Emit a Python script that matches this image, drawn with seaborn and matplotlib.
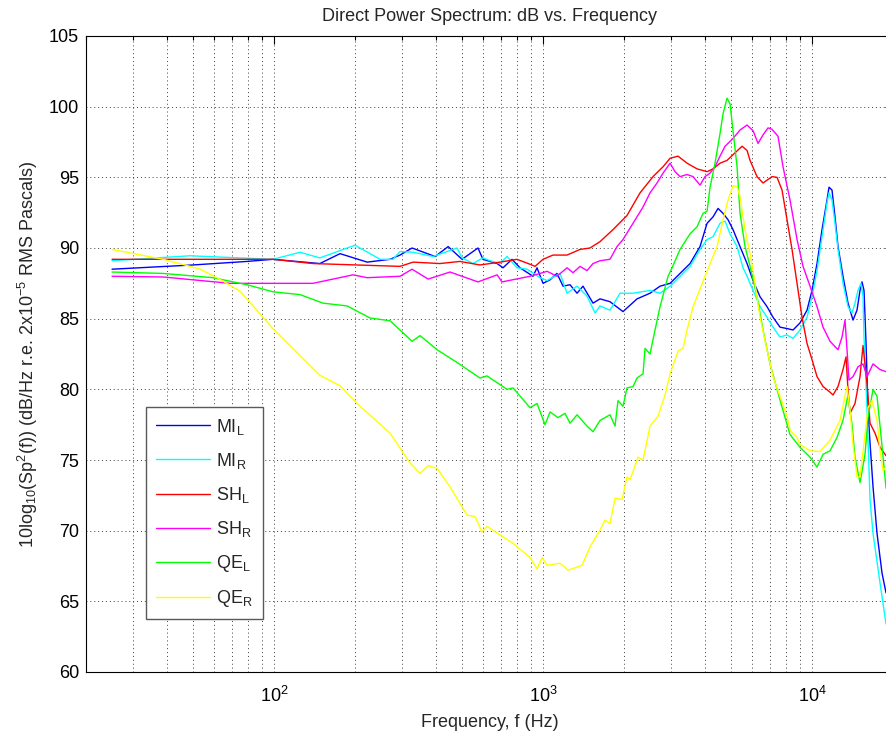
import matplotlib
matplotlib.use("Agg")
import matplotlib.pyplot as plt
import matplotlib.ticker as mticker
import numpy as np
import pandas as pd
import seaborn as sns

# ---- spectra: frequency (Hz) and level (dB) for each channel ----
mi_l_hz = [25, 50, 79.4, 99.1, 148, 176, 222, 270, 294, 326, 397, 444, 500, 573, 598, 675, 710, 767, 821, 918, 950,
           1000, 1062, 1127, 1187, 1260, 1338, 1408, 1534, 1629, 1774, 1983, 2236, 2499, 2723, 2967, 3231, 3520, 3834,
           4072, 4285, 4473, 4669, 4873, 5085, 5400, 5734, 6036, 6408, 6804, 7161, 7603, 8074, 8500, 9024, 9581,
           10000, 10437, 10894, 11370, 11566, 11866, 12175, 12492, 13039, 13609, 14203, 14697, 15080, 15340, 15605,
           15876, 16151, 16430, 16858, 17446, 18207, 18842]
mi_l_db = [88.5, 88.8, 89.05, 89.2, 88.9, 89.6, 89.0, 89.2, 89.5, 90.0, 89.4, 90.1, 89.2, 90.0, 89.2, 88.9, 88.6, 89.2,
           88.6, 88.0, 88.6, 87.5, 87.75, 88.2, 87.3, 87.4, 86.8, 87.3, 86.1, 86.4, 86.2, 85.5, 86.4, 86.8, 87.3,
           87.5, 88.2, 88.9, 90.1, 91.75, 92.2, 92.8, 92.45, 92.0, 91.3, 90.1, 88.9, 87.7, 86.55, 85.85, 85.1, 84.4,
           84.3, 84.2, 84.7, 85.6, 87.0, 88.9, 91.3, 93.4, 94.3, 94.1, 92.2, 90.1, 88.0, 86.1, 84.9, 85.6, 87.0,
           87.6, 87.0, 83.3, 78.5, 76.2, 73.1, 69.8, 67.0, 65.6]

mi_r_hz = [25, 48.7, 99.1, 125, 148, 200, 248, 277, 294, 329, 390, 479, 500, 549, 598, 635, 692, 735, 800, 872, 975,
           1035, 1157, 1228, 1338, 1457, 1561, 1629, 1774, 1933, 2161, 2499, 2723, 2967, 3231, 3520, 3834, 4072,
           4285, 4550, 4750, 4957, 5264, 5541, 5734, 6036, 6408, 6804, 7161, 7603, 8074, 8500, 9024, 9581, 10000,
           10437, 10894, 11370, 11566, 11866, 12175, 12492, 13039, 13609, 14082, 14447, 14823, 15210, 15473, 15605,
           15876, 16014, 16430, 16858, 17898, 18842]
mi_r_db = [89.1, 89.45, 89.2, 89.7, 89.3, 90.2, 89.2, 89.2, 89.75, 89.7, 89.4, 90.0, 89.3, 88.9, 89.3, 89.1, 88.9,
           89.4, 88.6, 88.5, 87.9, 87.7, 88.2, 86.8, 87.3, 86.6, 85.4, 85.9, 85.6, 86.8, 86.8, 87.0, 86.8, 87.3,
           88.0, 88.7, 89.9, 90.6, 90.8, 91.75, 91.9, 91.0, 90.1, 88.6, 88.0, 87.0, 85.85, 85.1, 84.4, 83.7, 83.85,
           83.6, 84.2, 85.1, 86.55, 88.4, 90.8, 93.2, 93.9, 93.4, 91.75, 89.9, 87.5, 85.85, 85.4, 86.1, 87.0, 87.5,
           86.55, 83.7, 80.4, 78.5, 72.2, 69.8, 66.3, 63.4]

sh_l_hz = [25, 99.1, 139.6, 294, 329, 414, 491, 583, 692, 800, 895, 934, 1000, 1089, 1228, 1373, 1495, 1629, 1820,
           2052, 2294, 2564, 2794, 2967, 3177, 3430, 3737, 4072, 4285, 4550, 4831, 5085, 5494, 5734, 5883, 6245,
           6575, 6804, 7102, 7412, 7735, 8074, 8427, 8796, 9181, 9581, 10000, 10437, 10988, 11665, 11969, 12492,
           13039, 13378, 13609, 13843, 14447, 15080, 15473, 16014, 16430, 17150, 17898, 18842]
sh_l_db = [89.2, 89.2, 88.9, 88.7, 89.0, 88.9, 89.05, 88.8, 89.0, 89.2, 88.85, 88.7, 89.2, 89.5, 89.5, 89.9, 90.0,
           90.45, 91.3, 92.3, 93.9, 95.05, 95.75, 96.35, 96.5, 96.0, 95.6, 95.4, 95.6, 96.0, 96.2, 96.6, 97.2, 96.9,
           96.2, 95.05, 94.6, 94.8, 95.05, 95.0, 94.1, 92.0, 89.9, 87.5, 85.1, 83.25, 82.1, 80.9, 80.2, 79.8, 79.6,
           80.2, 81.4, 82.3, 79.95, 78.3, 79.0, 80.9, 83.1, 80.4, 77.6, 76.9, 75.9, 75.3]

sh_r_hz = [25, 38.7, 68.6, 139.6, 196.6, 222, 294, 326, 374, 451, 573, 675, 704, 895, 975, 1035, 1127, 1228, 1293,
           1373, 1457, 1534, 1629, 1774, 1884, 1983, 2161, 2354, 2499, 2653, 2794, 2967, 3096, 3231, 3430, 3612,
           3834, 4002, 4177, 4359, 4550, 4750, 5085, 5400, 5734, 6036, 6299, 6575, 6863, 7102, 7476, 7801, 8283,
           8796, 9259, 9831, 10437, 10988, 11665, 12492, 12927, 13264, 13492, 13720, 14203, 14823, 15473, 16014,
           16858, 17898, 18842]
sh_r_db = [88.0, 87.95, 87.5, 87.5, 88.1, 87.9, 88.0, 88.5, 87.8, 88.3, 87.6, 88.1, 87.6, 88.0, 88.2, 88.35, 88.0,
           88.6, 88.25, 88.7, 88.4, 88.9, 89.1, 89.2, 90.1, 90.6, 91.75, 92.9, 93.9, 94.6, 95.3, 96.0, 95.4, 95.05,
           95.2, 95.05, 94.45, 95.05, 95.3, 95.75, 96.5, 97.2, 97.75, 98.35, 98.7, 98.3, 97.4, 98.0, 98.5, 98.4,
           97.9, 95.75, 93.4, 90.6, 88.7, 87.3, 85.85, 84.4, 83.4, 82.8, 83.7, 84.9, 82.8, 80.65, 80.9, 81.6, 81.8,
           80.9, 81.8, 81.4, 81.25]

qe_l_hz = [25, 38.7, 59.3, 79.4, 99.1, 125, 152, 187, 227.5, 270, 326, 349, 404, 479, 583, 619, 735, 774, 895, 950,
           1017, 1062, 1137, 1207, 1260, 1338, 1457, 1534, 1629, 1774, 1852, 1900, 1983, 2052, 2161, 2236, 2354,
           2394, 2499, 2608, 2723, 2916, 3018, 3231, 3520, 3737, 3934, 4072, 4177, 4359, 4550, 4669, 4831, 4957,
           5085, 5264, 5400, 5636, 5883, 6245, 6575, 6981, 7412, 7801, 8283, 9024, 9831, 10437, 10988, 11665,
           12385, 13039, 13609, 14082, 14447, 15080, 15740, 16151, 16858, 17446, 18207, 18842]
qe_l_db = [88.3, 88.2, 87.9, 87.4, 86.9, 86.7, 86.1, 85.9, 85.05, 84.85, 83.4, 83.8, 82.8, 81.9, 80.8, 80.95, 80.0,
           80.1, 78.7, 79.0, 77.5, 78.4, 78.0, 78.3, 77.6, 78.2, 77.4, 77.0, 77.8, 78.2, 77.4, 79.2, 78.8, 80.1,
           80.2, 80.8, 81.1, 82.9, 82.5, 84.2, 85.85, 88.0, 88.6, 89.9, 91.0, 91.5, 92.45, 92.6, 94.3, 96.0, 98.1,
           99.5, 100.6, 100.2, 98.3, 95.75, 92.45, 90.1, 88.7, 86.55, 84.2, 81.8, 80.0, 78.5, 76.8, 75.9, 75.2,
           74.5, 75.4, 75.65, 76.6, 77.8, 79.6, 77.5, 75.2, 73.4, 75.4, 78.0, 80.0, 79.5, 76.0, 73.0]

qe_r_hz = [25, 38.7, 48.7, 53.1, 61.4, 74.7, 99.1, 148, 176, 203.5, 270, 320, 349, 374, 404, 451, 522, 559, 593,
           619, 692, 774, 895, 950, 992, 1035, 1157, 1239, 1396, 1495, 1629, 1700, 1774, 1852, 1966, 2052, 2106,
           2255, 2354, 2499, 2676, 2842, 2967, 3177, 3315, 3430, 3612, 3834, 4177, 4435, 4669, 4873, 5085, 5264,
           5400, 5636, 5883, 6036, 6408, 6804, 7161, 7603, 8074, 8283, 8796, 9024, 9831, 10708, 11665, 12708,
           13492, 13843, 14203, 14697, 15080, 15740, 16151, 16714, 17446, 17898, 18365, 18842]
qe_r_db = [89.9, 89.2, 88.7, 88.5, 87.9, 86.95, 84.3, 81.0, 80.25, 79.0, 76.9, 74.8, 74.05, 74.6, 74.4, 73.1, 71.1,
           71.0, 69.9, 70.3, 69.7, 69.1, 68.1, 67.3, 68.1, 67.55, 67.7, 67.2, 67.55, 68.85, 70.05, 70.75, 70.5,
           72.3, 72.2, 73.8, 73.6, 75.2, 75.0, 77.4, 78.1, 79.6, 81.1, 82.7, 82.9, 84.2, 85.85, 87.1, 88.9, 90.1,
           92.0, 93.4, 94.4, 94.35, 93.6, 91.3, 89.6, 88.4, 85.1, 82.8, 80.9, 79.5, 78.1, 77.1, 76.6, 76.1, 75.65,
           75.6, 76.4, 77.8, 80.2, 78.5, 76.1, 73.8, 73.8, 76.8, 78.7, 79.2, 77.8, 75.65, 74.25, 74.5]

series_names = ["MI_L", "MI_R", "SH_L", "SH_R", "QE_L", "QE_R"]
legend_labels = [r"MI$_{\mathregular{L}}$", r"MI$_{\mathregular{R}}$", r"SH$_{\mathregular{L}}$",
                 r"SH$_{\mathregular{R}}$", r"QE$_{\mathregular{L}}$", r"QE$_{\mathregular{R}}$"]
series_colors = ["#0000ff", "#00ffff", "#ff0000", "#ff00ff", "#00ff00", "#ffff00"]

frames = []
for name, hz, db in zip(series_names,
                        [mi_l_hz, mi_r_hz, sh_l_hz, sh_r_hz, qe_l_hz, qe_r_hz],
                        [mi_l_db, mi_r_db, sh_l_db, sh_r_db, qe_l_db, qe_r_db]):
    frames.append(pd.DataFrame({"freq": hz, "db": db, "series": name}))
spectra = pd.concat(frames, ignore_index=True)

# ---- styling ----
sns.set_style("white")
plt.rcParams["font.family"] = ["Liberation Sans", "DejaVu Sans"]
plt.rcParams["mathtext.fontset"] = "custom"
plt.rcParams["mathtext.rm"] = "Liberation Sans"
plt.rcParams["mathtext.it"] = "Liberation Sans:italic"
plt.rcParams["mathtext.bf"] = "Liberation Sans:bold"

W, H = 886, 734
fig = plt.figure(figsize=(W / 100, H / 100), dpi=100)
ax = fig.add_axes([86 / W, (H - 672) / H, (893 - 86) / W, 636 / H])

sns.lineplot(data=spectra, x="freq", y="db", hue="series", hue_order=series_names,
             palette=dict(zip(series_names, series_colors)), estimator=None, sort=False,
             linewidth=1.0, legend=False, ax=ax)

ax.set_xscale("log")
ax.set_xlim(20, 20000)
ax.set_ylim(60, 105)
ax.set_yticks(np.arange(60, 106, 5))
ax.xaxis.set_major_locator(mticker.LogLocator(base=10, numticks=10))
ax.xaxis.set_minor_locator(mticker.LogLocator(base=10, subs=np.arange(2, 10), numticks=20))
ax.xaxis.set_minor_formatter(mticker.NullFormatter())

grid_kw = dict(color="0.25", linestyle=(0, (1, 3)), linewidth=0.7)
ax.grid(True, which="major", axis="both", **grid_kw)
ax.grid(True, which="minor", axis="x", **grid_kw)
ax.set_axisbelow(True)

ax.tick_params(axis="both", which="both", direction="in", top=True, right=True,
               labelsize=13, colors="black", width=0.8)
ax.tick_params(axis="both", which="major", length=6)
ax.tick_params(axis="x", which="minor", length=3)
ax.tick_params(axis="x", which="major", pad=10)
ax.tick_params(axis="y", which="major", pad=5)
for sp in ax.spines.values():
    sp.set_color("black")
    sp.set_linewidth(0.8)

ax.set_title("Direct Power Spectrum: dB vs. Frequency", fontsize=13, pad=11)
ax.set_xlabel("Frequency, f (Hz)", fontsize=13, labelpad=6)
ax.set_ylabel(r"10log$_{\mathregular{10}}$(Sp$^{\mathregular{2}}$(f)) (dB/Hz r.e. 2x10$^{\mathregular{-5}}$ RMS Pascals)",
              fontsize=13, labelpad=6)

handles = ax.get_lines()[:len(series_names)]
leg = ax.legend(handles, legend_labels, loc="lower left", bbox_to_anchor=(60 / 807, 53 / 636),
                borderaxespad=0, fontsize=13, frameon=True, fancybox=False, framealpha=1,
                edgecolor="0.35", handlelength=3.0, handletextpad=0.35, labelspacing=0.78,
                borderpad=0.55)
leg.get_frame().set_linewidth(1.0)

fig.savefig("out.png", dpi=100)
